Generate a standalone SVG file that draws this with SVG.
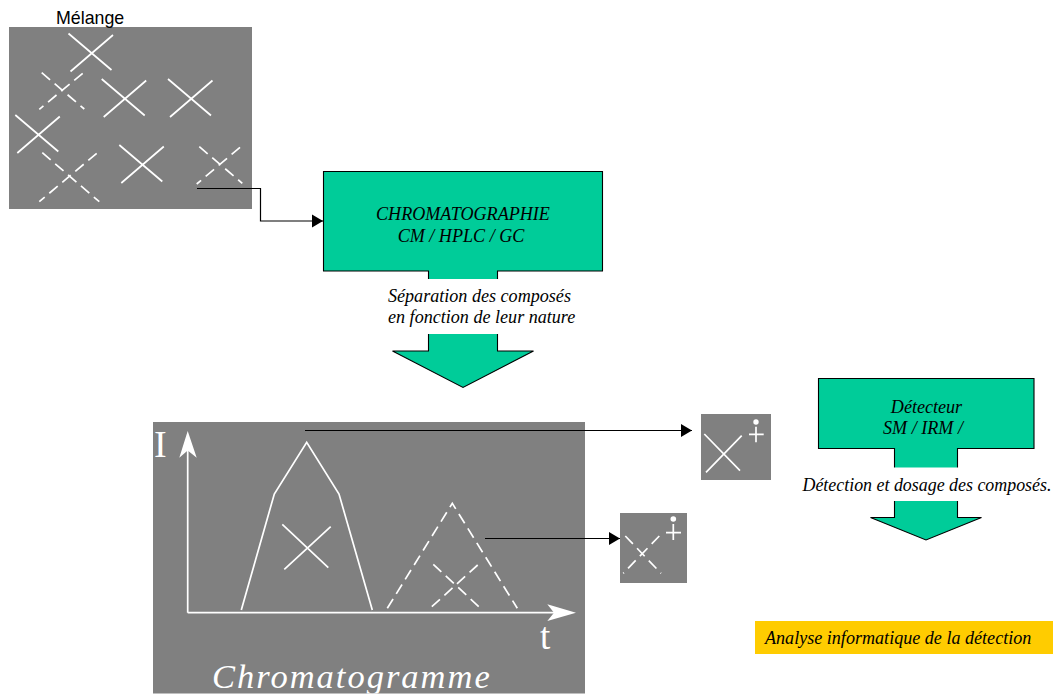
<svg xmlns="http://www.w3.org/2000/svg" width="1053" height="696" viewBox="0 0 1053 696">
<style>
.panel{fill:#808080}
.w{stroke:#fff;stroke-width:1.7;fill:none}
.d{stroke:#fff;stroke-width:1.7;fill:none;stroke-dasharray:11 6}
.block{fill:#00cc99;stroke:#000;stroke-width:1.1}
.c{stroke:#000;stroke-width:1.2;fill:none;marker-end:url(#ah)}
.t{font-family:"Liberation Serif","Times New Roman",serif;font-style:italic;font-size:18.100px;fill:#000}
.g{font-family:"Liberation Serif","Times New Roman",serif;fill:#fff}
</style>
<defs>
<marker id="ah" markerUnits="userSpaceOnUse" markerWidth="12" markerHeight="14" refX="11" refY="7" orient="auto"><path d="M0 0.500L11 7L0 13.500z" fill="#000"/></marker>
<g id="x"><path d="M0 0L43 36.500M44.500 1.500L2 38"/></g>
<clipPath id="cc"><rect x="153" y="422" width="432" height="271.500"/></clipPath>
</defs>

<g id="melange">
<rect class="panel" x="9" y="27" width="243" height="182"/>
<text x="56" y="24" font-family="'Liberation Sans',Arial,sans-serif" font-size="17.800" fill="#000">Mélange</text>
<use href="#x" class="w" x="68.500" y="33.500"/>
<path class="d" d="M41.700 72.700L84.300 109M82.700 73.300L39.300 109.300"/>
<use href="#x" class="w" x="101.700" y="79"/>
<use href="#x" class="w" x="168" y="79"/>
<use href="#x" class="w" x="15.300" y="115"/>
<path class="d" d="M42.300 152.700L99.300 201.700M96.700 153.300L39.300 201.700"/>
<use href="#x" class="w" x="119.300" y="145"/>
<path class="d" d="M199.300 146.700L242.300 183.300M240 147.300L196.700 184"/>
</g>

<g id="chromatographie">
<path class="block" d="M323.500 171.500H602.500V271H497.500V351H533.500L463 387.500L392.500 351H428.500V271H323.500Z"/>
<rect x="380" y="279" width="220" height="55" fill="#fff"/>
<text class="t" x="463" y="220" text-anchor="middle">CHROMATOGRAPHIE</text>
<text class="t" x="461" y="241.500" text-anchor="middle">CM / HPLC / GC</text>
<text class="t" x="388" y="301.500">Séparation des composés</text>
<text class="t" x="388" y="323">en fonction de leur nature</text>
</g>

<g id="chromatogramme">
<rect class="panel" x="153" y="422" width="432" height="271.500"/>
<path class="w" d="M187.700 612.700V450M187.700 612.700H555"/>
<path fill="#fff" d="M187.700 431L196.700 457.700L187.700 450.500L179.300 457.700Z"/>
<path fill="#fff" d="M576 612.700L547.300 621L554 612.700L547.300 604.300Z"/>
<path class="w" d="M241.300 610L274.300 494L306.700 442.300L339 494L372.300 610"/>
<path class="w" d="M282.300 524.300L328.300 567.700M330.700 526.700L284.300 569.300"/>
<path class="d" d="M387.300 608.300L452.300 503.300L517.300 608.300"/>
<path class="d" d="M433.300 564.300L480 607.700M477.700 565L430.700 607.700"/>
<text class="g" x="154" y="457" font-size="38">I</text>
<text class="g" x="540" y="649" font-size="37">t</text>
<g clip-path="url(#cc)"><text class="g" x="212" y="688" font-size="34.500" font-style="italic" letter-spacing="2">Chromatogramme</text></g>
</g>

<g id="compose1">
<rect class="panel" x="701" y="414" width="70" height="66"/>
<path class="w" d="M704.300 434L740 470.700M741.700 435.700L706 472.300M749 434.300H763.700M756 426.700V442.300"/>
<circle cx="756" cy="422" r="2.700" fill="#fff"/>
</g>

<g id="compose2">
<rect class="panel" x="620" y="513" width="67" height="70"/>
<path class="d" d="M625.300 536L661 573.300M659.300 536L623.300 573.300"/>
<path class="w" d="M666 532.700H681M673.300 524V540"/>
<circle cx="673.300" cy="519" r="2.800" fill="#fff"/>
</g>

<g id="detecteur">
<path class="block" d="M818.500 378.500H1034V448.500H957.500V517.500H981.500L926 540L870.500 517.500H894.500V448.500H818.500Z"/>
<rect x="800" y="467.500" width="253" height="33.500" fill="#fff"/>
<text class="t" x="926.500" y="412.500" text-anchor="middle">Détecteur</text>
<text class="t" x="923" y="434" text-anchor="middle">SM / IRM /</text>
<text class="t" x="802.500" y="490.500" style="font-size:17.900px">Détection et dosage des composés.</text>
</g>

<g id="analyse">
<rect x="755" y="621" width="298" height="33" fill="#ffcc00"/>
<text class="t" x="765" y="643.500">Analyse informatique de la détection</text>
</g>

<g id="connectors">
<path class="c" d="M197 188.500H260.500V221H323"/>
<path class="c" d="M305 430.500H692"/>
<path class="c" d="M485 538.500H620"/>
</g>
</svg>
